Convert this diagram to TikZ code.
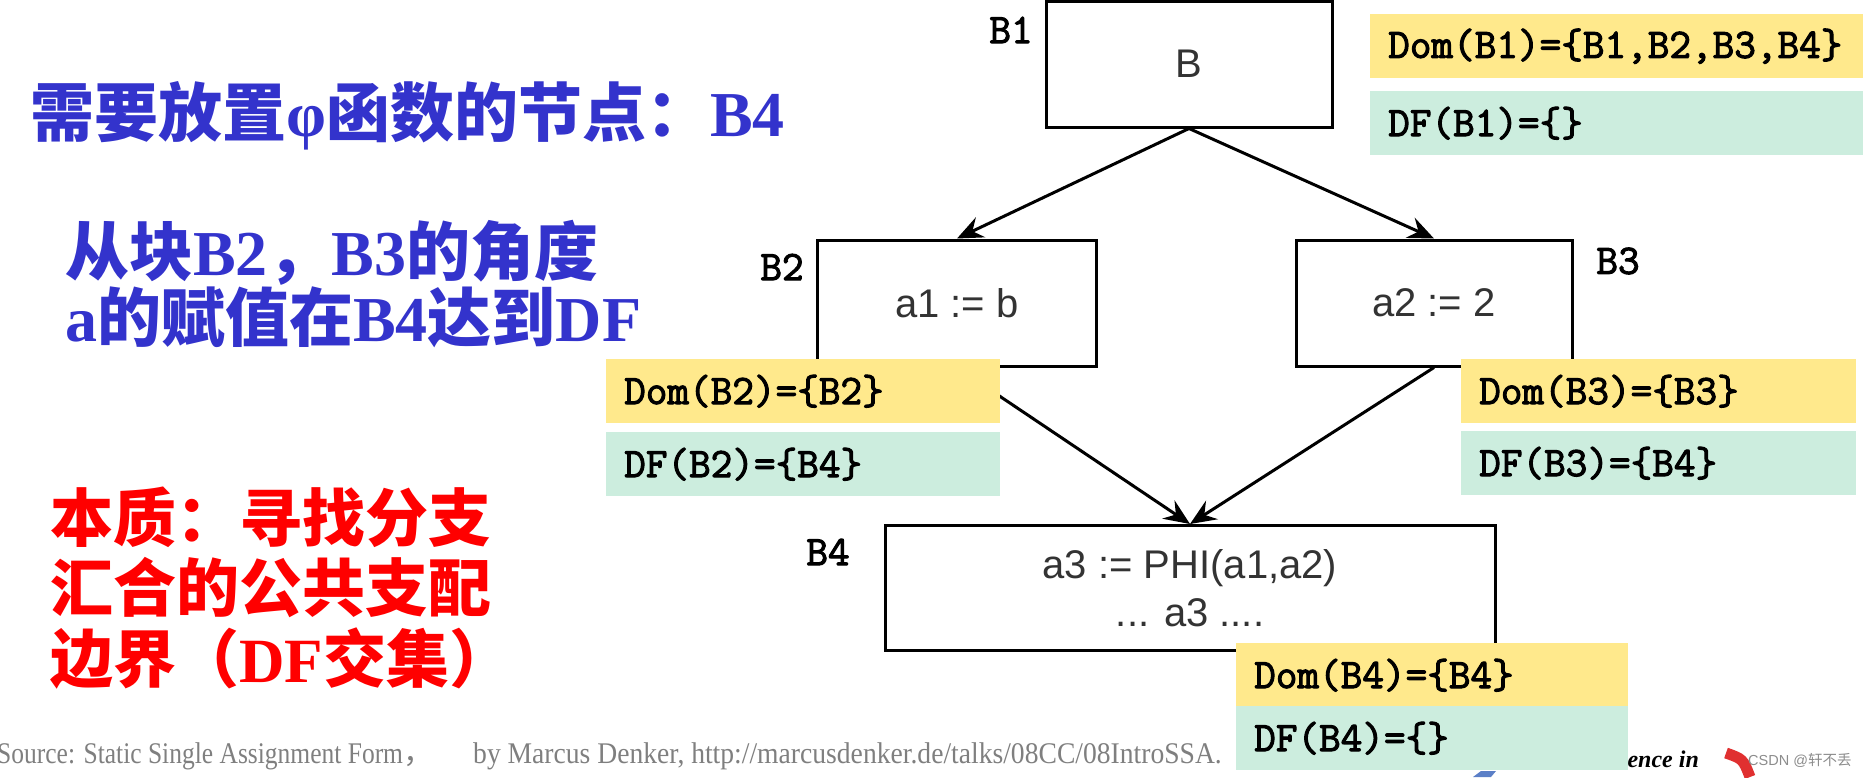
\documentclass[tikz,border=0pt]{standalone}
\usepackage{fontspec}
\usepackage{xcolor}
\usepackage{tikz}
\usetikzlibrary{arrows.meta,positioning}
\setmainfont{Liberation Serif}
\newfontfamily\zh{Noto Sans CJK SC}
\newfontfamily\boxfont{Liberation Sans}
\newfontfamily\codefont[FakeBold=2.5]{Latin Modern Mono}
\newfontfamily\srcfont[FakeStretch=0.85]{Liberation Serif}
\newfontfamily\urlfont[FakeStretch=0.92]{Liberation Serif}
\definecolor{noteBlue}{HTML}{3333CC}
\definecolor{noteRed}{HTML}{FF0000}
\definecolor{domYellow}{HTML}{FFE98C}
\definecolor{dfGreen}{HTML}{CCEDDE}
\definecolor{srcGray}{HTML}{7F7F7F}
\definecolor{logoBlue}{HTML}{5B7FC7}
\definecolor{logoRed}{HTML}{E03030}

\begin{document}
\begin{tikzpicture}[x=1pt,y=-1pt,>={Stealth[length=26pt,width=22pt,inset=9pt]},
    blk/.style={draw,line width=3pt,inner sep=0pt,text=black!80,align=center,
      font=\boxfont\fontsize{40}{48}\selectfont},
    blklabel/.style={inner sep=0pt,font=\codefont\fontsize{42}{42}\selectfont},
    setbox/.style={anchor=north west,minimum height=64pt,inner xsep=18pt,inner ysep=0pt,
      align=left,font=\codefont\fontsize{42}{42}\selectfont},
    dombox/.style={setbox,fill=domYellow},
    dfbox/.style={setbox,fill=dfGreen},
    flow/.style={->,line width=3pt},
    bluetext/.style={anchor=west,inner sep=0pt,text=noteBlue,font=\bfseries\fontsize{64}{64}\selectfont},
    redtext/.style={anchor=west,inner sep=0pt,text=noteRed,font=\bfseries\fontsize{63}{63}\selectfont},
    srctext/.style={anchor=west,inner sep=0pt,text=srcGray}]
  \useasboundingbox (0,0) rectangle (1863,777);

  % left notes
  \node[bluetext] (need) at (30,116) {{\zh 需要放置}φ{\zh 函数的节点：}B4};
  \node[bluetext] (view1) at (65,253) {{\zh 从块}B2{\zh ，}B3{\zh 的角度}};
  \node[bluetext] (view2) at (65,317) {a{\zh 的赋值在}B4{\zh 达到}DF};
  \node[redtext] (core1) at (50,517) {\zh 本质：寻找分支};
  \node[redtext] (core2) at (50,588) {\zh 汇合的公共支配};
  \node[redtext] (core3) at (50,659) {{\zh 边界（}DF{\zh 交集）}};

  \node[srctext,font=\srcfont\fontsize{30}{30}\selectfont] (src) at (-3,756)
    {Source: Static Single Assignment Form{\zh ，}};
  \node[srctext,font=\urlfont\fontsize{30}{30}\selectfont] (srcby) at (473,756)
    {by Marcus Denker, http://marcusdenker.de/talks/08CC/08IntroSSA.};
  \node[anchor=west,inner sep=0pt,font=\bfseries\itshape\fontsize{24}{24}\selectfont] (logo) at (1614,759) {llence in};
  \fill[logoBlue] (1481,771) -- (1496,771) -- (1491,777) -- (1473,777) -- cycle;
  \draw[logoRed,line width=11pt] (1726,753) .. controls (1743,759) .. (1750,777);
  \node[anchor=west,inner sep=0pt,text=black!45,font=\boxfont\fontsize{14.5}{15}\selectfont] (mark) at (1748,760)
    {CSDN @{\zh 轩不丢}};

  % flow graph
  \node[blk,minimum width=286pt,minimum height=126pt] (b1) at (1189,64) {B};
  \node[blk,minimum width=279pt,minimum height=126pt] (b2) at (957,303) {a1 := b};
  \node[blk,minimum width=276pt,minimum height=126pt] (b3) at (1434,303) {a2 := 2};
  \node[blk,minimum width=610pt,minimum height=125pt] (b4) at (1190,588) {a3 := PHI(a1,a2)\\... a3 ....};
  \draw[flow] (b1.south) -- (b2.north);
  \draw[flow] (b1.south) -- (b3.north);
  \draw[flow] (b2.south) -- (b4.north);
  \draw[flow] (b3.south) -- (b4.north);

  \node[blklabel] (l1) at (1011,30) {B1};
  \node[blklabel] (l2) at (782,267) {B2};
  \node[blklabel] (l3) at (1618,261) {B3};
  \node[blklabel] (l4) at (828,552) {B4};

  % dominator sets
  \node[dombox,text width=457pt] (dom1) at (1370,14) {Dom(B1)=\{B1,B2,B3,B4\}};
  \node[dfbox,text width=457pt] (df1) at (1370,91) {DF(B1)=\{\}};
  \node[dombox,text width=358pt] (dom2) at (606,359) {Dom(B2)=\{B2\}};
  \node[dfbox,text width=358pt] (df2) at (606,432) {DF(B2)=\{B4\}};
  \node[dombox,text width=359pt] (dom3) at (1461,359) {Dom(B3)=\{B3\}};
  \node[dfbox,text width=359pt] (df3) at (1461,431) {DF(B3)=\{B4\}};
  \node[dombox,text width=356pt] (dom4) at (1236,643) {Dom(B4)=\{B4\}};
  \node[dfbox,text width=356pt] (df4) at (1236,706) {DF(B4)=\{\}};
\end{tikzpicture}
\end{document}
